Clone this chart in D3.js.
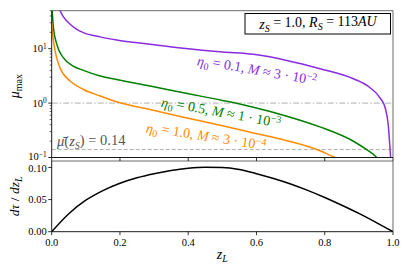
<!DOCTYPE html>
<html><head><meta charset="utf-8">
<script src="https://cdn.jsdelivr.net/npm/d3@7"></script>
<style>
html,body{margin:0;padding:0;background:#fff;}
svg{display:block;}
svg text{font-family:'Liberation Serif','Times New Roman','DejaVu Serif',serif;}
</style></head>
<body>
<svg id="c" width="407" height="273" font-family="Liberation Serif, serif"></svg>
<script>
// ---- data ----
const zPurple = [0.012,0.024,0.035,0.054,0.07,0.093,0.142,0.19,0.288,0.386,0.5,0.591,0.689,0.786,0.884,0.933,0.962,0.977,0.986,0.993,0.997];
const muPurple = [90,51,38,28.2,23.5,19.8,16.5,14.5,12.1,10.2,8.7,7.88,6.1,4.3,2.81,1.92,1.25,0.82,0.40,0.1,0.04];
const zGreen = [0.0,0.005,0.015,0.034,0.063,0.093,0.142,0.19,0.288,0.386,0.5,0.591,0.689,0.786,0.884,0.923,0.952,0.97];
const muGreen = [70,24.5,12,6.85,4.8,4.0,3.15,2.72,2.06,1.55,1.12,0.84,0.575,0.365,0.199,0.139,0.1,0.07];
const zOrange = [0.0,0.003,0.01,0.024,0.054,0.093,0.142,0.19,0.288,0.386,0.5,0.591,0.689,0.786,0.83,0.86];
const muOrange = [30,18,9.1,4.48,2.55,1.78,1.35,1.06,0.762,0.552,0.385,0.283,0.204,0.133,0.1,0.085];
const zTau = [0,0.05,0.1,0.15,0.2,0.25,0.3,0.35,0.4,0.45,0.5,0.55,0.6,0.65,0.7,0.75,0.8,0.85,0.9,0.95,1.0];
const dTau = [0,0.028,0.049,0.064,0.0755,0.084,0.0903,0.0953,0.0987,0.1003,0.1,0.0968,0.0903,0.0828,0.0743,0.0643,0.0532,0.0412,0.0285,0.0146,0];
const muBar = 0.14;
const muRef = 1.0;
const xTicks = [0,0.2,0.4,0.6,0.8,1.0];
const yTicksBottom = [0,0.05,0.10];
const yMajorTop = [0.1,1,10];
const yExpTop = ["-1","0","1"];

const svg = d3.select("#c");
const L = 51.7, R = 393, T1 = 10.7, B1 = 157.5, T2 = 161, B2 = 231.7;
const x = d3.scaleLinear().domain([0,1]).range([L,R]);
const y1 = d3.scaleLog().domain([0.1,50]).range([B1,T1]);
const y2 = d3.scaleLinear().domain([0,0.11]).range([B2,T2]);

const cP = "#8a2be2", cG = "#008000", cO = "#ff8c00";
const serif = "Liberation Serif, serif";

svg.append("clipPath").attr("id","clip1").append("rect")
  .attr("x",L).attr("y",T1).attr("width",R-L).attr("height",B1-T1);
svg.append("clipPath").attr("id","clip2").append("rect")
  .attr("x",L).attr("y",T2).attr("width",R-L).attr("height",B2-T2);

// reference lines
svg.append("line").attr("x1",L).attr("x2",R).attr("y1",y1(muRef)).attr("y2",y1(muRef))
  .attr("stroke","#b0b0b0").attr("stroke-width",1).attr("stroke-dasharray","6,2,1.5,2");
svg.append("line").attr("x1",L).attr("x2",R).attr("y1",y1(muBar)).attr("y2",y1(muBar))
  .attr("stroke","#b0b0b0").attr("stroke-width",1).attr("stroke-dasharray","4,2");

const line1 = d3.line().x(d=>x(d[0])).y(d=>y1(d[1])).curve(d3.curveMonotoneX);
const g1 = svg.append("g").attr("clip-path","url(#clip1)");
[[zPurple,muPurple,cP],[zGreen,muGreen,cG],[zOrange,muOrange,cO]].forEach(([zs,ms,c])=>{
  g1.append("path").datum(zs.map((z,i)=>[z,ms[i]])).attr("d",line1)
    .attr("fill","none").attr("stroke",c).attr("stroke-width",1.5);
});

const line2 = d3.line().x(d=>x(d[0])).y(d=>y2(d[1])).curve(d3.curveMonotoneX);
svg.append("g").attr("clip-path","url(#clip2)").append("path")
  .datum(zTau.map((z,i)=>[z,dTau[i]])).attr("d",line2)
  .attr("fill","none").attr("stroke","#000").attr("stroke-width",1.5);

// spines
function frame(t,b){
  svg.append("line").attr("x1",L).attr("x2",R).attr("y1",t).attr("y2",t).attr("stroke","#444").attr("stroke-width",0.8);
  svg.append("line").attr("x1",R).attr("x2",R).attr("y1",t).attr("y2",b).attr("stroke","#444").attr("stroke-width",0.8);
  svg.append("line").attr("x1",L).attr("x2",L).attr("y1",t).attr("y2",b).attr("stroke","#000").attr("stroke-width",0.9);
  svg.append("line").attr("x1",L).attr("x2",R).attr("y1",b).attr("y2",b).attr("stroke","#000").attr("stroke-width",0.9);
}
frame(T1,B1); frame(T2,B2);

// ticks
const tg = svg.append("g").attr("stroke","#000").attr("stroke-width",0.8);
xTicks.forEach(v=>{
  tg.append("line").attr("x1",x(v)).attr("x2",x(v)).attr("y1",B1).attr("y2",B1+3.5);
  tg.append("line").attr("x1",x(v)).attr("x2",x(v)).attr("y1",B2).attr("y2",B2+3.5);
});
const minor = [];
[0.1,1,10].forEach(d=>{for(let k=2;k<=9;k++){const v=d*k; if(v<=50) minor.push(v);}});
minor.forEach(v=>{
  tg.append("line").attr("x1",L).attr("x2",L-2).attr("y1",y1(v)).attr("y2",y1(v)).attr("stroke-width",0.6);
});
yMajorTop.forEach(v=>{
  tg.append("line").attr("x1",L).attr("x2",L-3.5).attr("y1",y1(v)).attr("y2",y1(v));
});
yTicksBottom.forEach(v=>{
  tg.append("line").attr("x1",L).attr("x2",L-3.5).attr("y1",y2(v)).attr("y2",y2(v));
});

function T(sel){ return sel.append("text").attr("font-family",serif); }

// tick labels
const fs = 10.5;
yMajorTop.forEach((v,i)=>{
  const t = T(svg).attr("x",L-5).attr("y",y1(v)).attr("dy",i===0?"0.25em":"0.35em")
    .attr("text-anchor","end").attr("font-size",fs).attr("fill","#000");
  t.append("tspan").text("10");
  t.append("tspan").attr("dy","-0.45em").attr("font-size",fs*0.7).text(yExpTop[i].replace("-","\u2212"));
});
yTicksBottom.forEach((v,i)=>{
  T(svg).attr("x",L-5).attr("y",y2(v)).attr("dy",i===2?"0.45em":"0.35em")
    .attr("text-anchor","end").attr("font-size",fs).text(d3.format(".2f")(v));
});
xTicks.forEach(v=>{
  T(svg).attr("x",x(v)).attr("y",B2+14).attr("text-anchor","middle")
    .attr("font-size",fs).text(d3.format(".1f")(v));
});

// axis labels
const yl1 = T(svg).attr("transform",`translate(19,${(T1+B1)/2+2}) rotate(-90)`)
  .attr("text-anchor","middle").attr("font-size",14);
yl1.append("tspan").attr("font-style","italic").text("μ");
yl1.append("tspan").attr("dy","0.3em").attr("font-size",10).text("max");

const yl2 = T(svg).attr("transform",`translate(19,${(T2+B2)/2}) rotate(-90)`)
  .attr("text-anchor","middle").attr("font-size",13.5).attr("font-style","italic");
yl2.append("tspan").text("dτ");
yl2.append("tspan").attr("font-style","normal").text(" / ");
yl2.append("tspan").text("dz");
yl2.append("tspan").attr("dy","0.3em").attr("font-size",10).text("L");

const xl = T(svg).attr("x",(L+R)/2).attr("y",259).attr("text-anchor","middle")
  .attr("font-size",14).attr("font-style","italic");
xl.append("tspan").text("z");
xl.append("tspan").attr("dy","0.3em").attr("font-size",10).text("L");

// mu-bar label
const mb = T(svg).attr("x",57).attr("y",146).attr("font-size",14.5).attr("fill","#555");
mb.append("tspan").attr("font-style","italic").text("μ\u0304");
mb.append("tspan").text("(");
mb.append("tspan").attr("font-style","italic").text("z");
mb.append("tspan").attr("font-style","italic").attr("font-size",10).attr("dy","0.3em").text("S");
mb.append("tspan").attr("dy","-0.3em").text(") = " + muBar);

// curve labels
function curveLabel(cx,cy,ang,color,eta,mant,exp){
  const t = T(svg).attr("transform",`translate(${cx},${cy}) rotate(${ang})`)
    .attr("text-anchor","middle").attr("dy","0.35em").attr("font-size",14).attr("fill",color);
  t.append("tspan").attr("font-style","italic").text("η");
  t.append("tspan").attr("font-size",10).attr("dy","0.3em").text("0");
  t.append("tspan").attr("dy","-0.3em").text(" = " + eta + ", ");
  t.append("tspan").attr("font-style","italic").text("M");
  t.append("tspan").text(" ≈ " + mant + " · 10");
  t.append("tspan").attr("font-size",10).attr("dy","-0.45em").text("\u2212" + exp);
}
curveLabel(257,71,10,cP,"0.1","3","2");
curveLabel(221,113,10.5,cG,"0.5","1","3");
curveLabel(206,137,9,cO,"1.0","3","4");

// info box
svg.append("rect").attr("x",245).attr("y",13.5).attr("width",145.5).attr("height",20.5)
  .attr("fill","#fff").attr("stroke","#000").attr("stroke-width",1);
const ib = T(svg).attr("x",318).attr("y",28.5).attr("text-anchor","middle").attr("font-size",14);
ib.append("tspan").attr("font-style","italic").text("z");
ib.append("tspan").attr("font-style","italic").attr("font-size",10).attr("dy","0.3em").text("S");
ib.append("tspan").attr("dy","-0.3em").text(" = 1.0, ");
ib.append("tspan").attr("font-style","italic").text("R");
ib.append("tspan").attr("font-style","italic").attr("font-size",10).attr("dy","0.3em").text("S");
ib.append("tspan").attr("dy","-0.3em").text(" = 113");
ib.append("tspan").attr("font-style","italic").text("AU");
</script>
</body></html>
